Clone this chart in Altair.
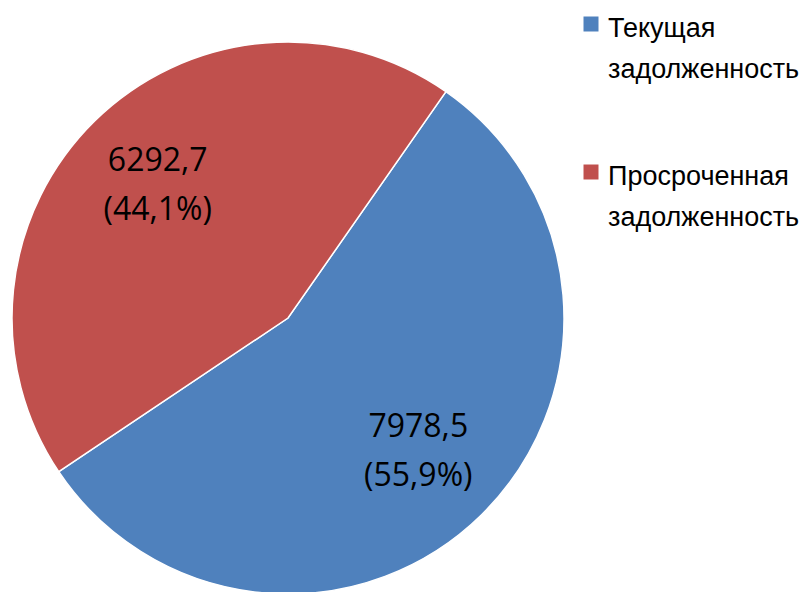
import math
import altair as alt
import pandas as pd

categories = ["Текущая задолженность", "Просроченная задолженность"]
values = [7978.5, 6292.7]
value_labels = ["7978,5", "6292,7"]
pct_labels = ["(55,9%)", "(44,1%)"]
legend_lines = ["Текущая\nзадолженность", "Просроченная\nзадолженность"]
colors = ["#4F81BD", "#C0504D"]

df = pd.DataFrame({
    "cat": categories,
    "value": values,
    "order": list(range(len(categories))),
    "label": [f"{v}\n{p}" for v, p in zip(value_labels, pct_labels)],
})
leg = pd.DataFrame({"cat": categories, "txt": legend_lines})

start = math.radians(34.9)
theta = alt.Theta("value:Q", stack=True,
                  scale=alt.Scale(range=[start, start + 2 * math.pi]))
color = alt.Color("cat:N", scale=alt.Scale(domain=categories, range=colors), legend=None)
cx, cy = 280, 310

pie = alt.Chart(df).mark_arc(radius=276, stroke="white", strokeWidth=1.5).encode(
    theta=theta, color=color, order=alt.Order("order:Q"),
    x=alt.value(cx), y=alt.value(cy),
)
labels = alt.Chart(df).mark_text(
    radius=186, fontSize=32, font="Open Sans", lineBreak="\n", lineHeight=49,
    color="black", align="center", baseline="middle", dy=-24
).encode(
    theta=theta, order=alt.Order("order:Q"), text="label:N",
    x=alt.value(cx), y=alt.value(cy),
)

ypos = alt.Y("cat:N", scale=alt.Scale(domain=categories, range=[16, 164], padding=0), axis=None)
leg_sq = alt.Chart(leg).mark_point(shape="square", filled=True, size=225, opacity=1).encode(
    x=alt.value(583), y=ypos, color=color,
)
leg_txt = alt.Chart(leg).mark_text(
    align="left", baseline="alphabetic", fontSize=27, font="Liberation Sans",
    lineBreak="\n", lineHeight=41, dy=13, color="black"
).encode(x=alt.value(600), y=ypos, text="txt:N")

chart = alt.layer(pie, labels, leg_sq, leg_txt).properties(
    width=794, height=584, autosize="none", padding=0
).configure_view(strokeWidth=0)

chart.save("out.html", embed_options={"renderer": "svg", "actions": False})
